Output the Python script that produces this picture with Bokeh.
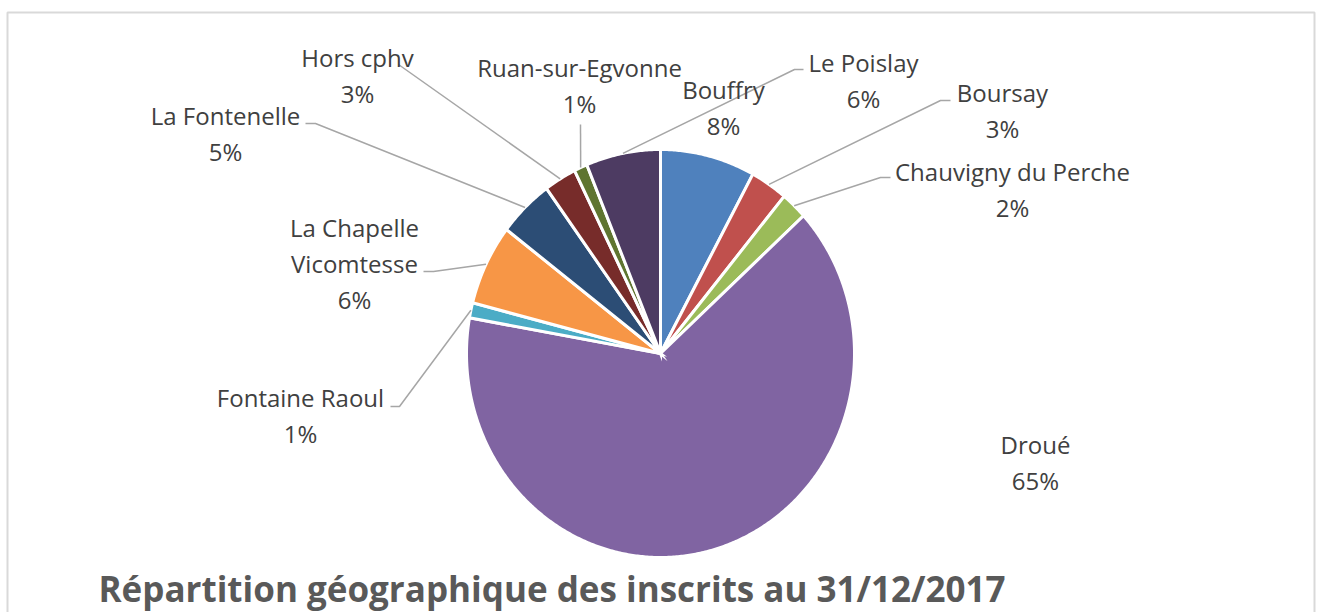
import numpy as np
from bokeh.plotting import figure
from bokeh.models import Range1d
from bokeh.core.properties import value
from bokeh.embed import file_html
from bokeh.resources import INLINE

# ---------------- data ----------------
categories = ["Bouffry", "Boursay", "Chauvigny du Perche", "Droué", "Fontaine Raoul",
              "La Chapelle Vicomtesse", "La Fontenelle", "Hors cphv", "Ruan-sur-Egvonne",
              "Le Poislay"]
shares = [7.9, 3.1, 2.2, 64.6, 1.2, 6.4, 4.6, 2.7, 1.1, 6.2]
colors = ["#4F81BD", "#C0504D", "#9BBB59", "#8064A2", "#4BACC6",
          "#F79646", "#2C4D75", "#772C2A", "#5F7530", "#4D3B62"]
title_text = "Répartition géographique des inscrits au 31/12/2017"

# ---------------- layout (screen-like coordinates) ----------------
CX, CY, RX, RY = 660, 353, 194, 204
label_lines = {"La Chapelle Vicomtesse": ["La Chapelle", "Vicomtesse"]}
label_pos = {  # centre x of block, y of first line
    "Bouffry": (723, 89), "Boursay": (1002, 92), "Chauvigny du Perche": (1012, 171),
    "Droué": (1035, 444), "Fontaine Raoul": (300, 397), "La Chapelle Vicomtesse": (354, 227),
    "La Fontenelle": (225, 115), "Hors cphv": (357, 57), "Ruan-sur-Egvonne": (579, 67),
    "Le Poislay": (863, 62),
}
leader_start = {
    "Boursay": [(950, 100), (940, 100)], "Chauvigny du Perche": [(890, 177), (880, 177)],
    "Fontaine Raoul": [(390, 406), (399, 406)], "La Chapelle Vicomtesse": [(423, 271), (433, 271)],
    "La Fontenelle": [(305, 123), (315, 123)], "Hors cphv": [(398, 64)],
    "Ruan-sur-Egvonne": [(580, 124)], "Le Poislay": [(803, 69), (794, 69)],
}
LINE_STEP = 36

p = figure(width=1319, height=612, output_backend="svg", toolbar_location=None,
           x_range=Range1d(0, 1319), y_range=Range1d(612, 0), min_border=0)
p.axis.visible = False
p.grid.visible = False
p.outline_line_color = None
p.background_fill_color = "white"
p.border_fill_color = "white"

# chart frame
p.quad(left=[7], right=[1314], top=[12], bottom=[700], fill_color=None,
       line_color="#d9d9d9", line_width=2)

# pie slices (elliptical, clockwise from 12 o'clock)
total = float(sum(shares))
fr = np.array(shares) / total
ends = np.cumsum(fr) * 2 * np.pi
starts = ends - fr * 2 * np.pi
xs, ys = [], []
for a0, a1 in zip(starts, ends):
    t = np.linspace(a0, a1, max(4, int((a1 - a0) * 120)))
    xs.append([CX] + list(CX + RX * np.sin(t)) + [CX])
    ys.append([CY] + list(CY - RY * np.cos(t)) + [CY])
p.patches(xs, ys, fill_color=colors, line_color="white", line_width=3, line_join="miter")

# leader lines
lx, ly = [], []
for name, a0, a1 in zip(categories, starts, ends):
    if name in leader_start:
        m = (a0 + a1) / 2
        pts = leader_start[name] + [(CX + RX * np.sin(m), CY - RY * np.cos(m))]
        lx.append([q[0] for q in pts])
        ly.append([q[1] for q in pts])
p.multi_line(lx, ly, line_color="#a6a6a6", line_width=1.5)

# labels
tx, ty, tt = [], [], []
for name, s in zip(categories, shares):
    lines = label_lines.get(name, [name]) + [f"{round(s / total * 100)}%"]
    x0, y0 = label_pos[name]
    for i, ln in enumerate(lines):
        tx.append(x0)
        ty.append(y0 + i * LINE_STEP)
        tt.append(ln)
p.text(x=tx, y=ty, text=tt, text_align="center", text_baseline="middle",
       text_font=value("Open Sans"), text_font_size="24px", text_color="#404040")

# title
p.text(x=[98], y=[588], text=[title_text], text_align="left", text_baseline="middle",
       text_font=value("Open Sans"), text_font_style="bold", text_font_size="35px",
       text_color="#595959")

open("out.html", "w").write(file_html(p, INLINE))
